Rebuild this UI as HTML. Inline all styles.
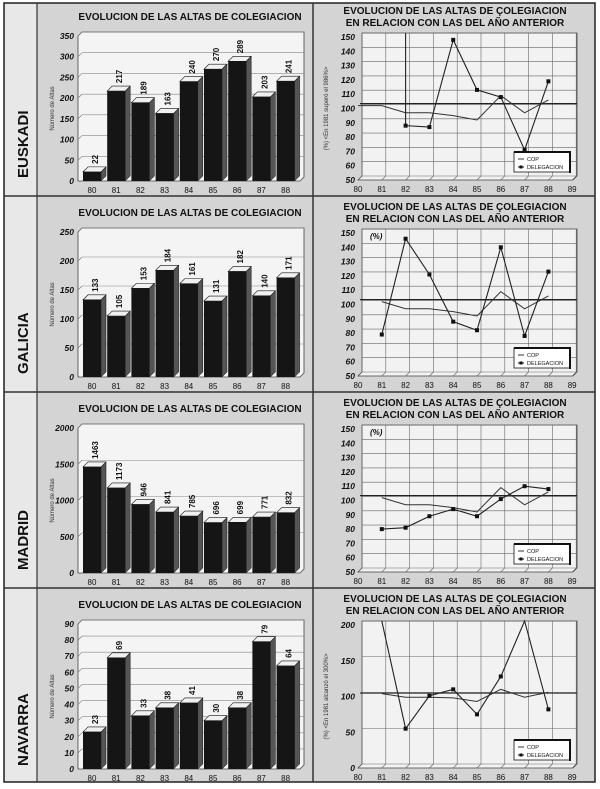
<!DOCTYPE html>
<html><head><meta charset="utf-8"><style>
body{margin:0;background:#fff;}
svg{display:block;font-family:"Liberation Sans",sans-serif;}
</style></head><body>
<svg id="s" width="600" height="789" viewBox="0 0 600 789" xmlns="http://www.w3.org/2000/svg"></svg>
<script>
const S=document.getElementById('s');let h='';
h+='<rect x="0" y="0" width="600" height="789" fill="#fff"/>';
h+='<rect x="4" y="3" width="591" height="779" fill="#d4d4d4" stroke="#222" stroke-width="1.5"/>';
h+='<rect x="5" y="4" width="32" height="777" fill="#e8e8e8"/>';
h+='<line x1="37" y1="3" x2="37" y2="782" stroke="#333" stroke-width="1.2"/>';
h+='<line x1="313" y1="3" x2="313" y2="782" stroke="#333" stroke-width="1.5"/>';
const rows=[0,196,392,588];
rows.slice(1).forEach(y=>h+=`<line x1="4" y1="${y}" x2="595" y2="${y}" stroke="#333" stroke-width="1.5"/>`);
const names=['EUSKADI','GALICIA','MADRID','NAVARRA'];
const bars=[
 {v:[22,217,189,163,240,270,289,203,241],max:350,step:50},
 {v:[133,105,153,184,161,131,182,140,171],max:250,step:50},
 {v:[1463,1173,946,841,785,696,699,771,832],max:2000,step:500},
 {v:[23,69,33,38,41,30,38,79,64],max:90,step:10}];
const cop=[102,97,97,95,92,109,97,106];
const lines=[
 {d:[null,88,87,148,113,108,71,119],pre:true,min:50,max:150,step:10,yl:'(%) &lt;En 1981 superó el 986%&gt;'},
 {d:[79,146,121,88,82,140,78,123],min:50,max:150,step:10,pct:true},
 {d:[80,81,89,94,89,101,110,108],min:50,max:150,step:10,pct:true},
 {d:[300,55,101,110,75,128,210,82],min:0,max:200,step:50,yl:'(%) &lt;En 1981 alcanzó el 300%&gt;',cop:[104,99,99,98,93,110,99,106]}];
rows.forEach((r,i)=>{
 h+=`<text transform="translate(28,${r+178}) rotate(-90)" font-size="15" font-weight="bold" fill="#111">${names[i]}</text>`;
 const B=bars[i];const top=r+36, bot=r+181, ax=78;
 h+=`<text x="190" y="${r+20}" font-size="10" font-weight="bold" text-anchor="middle" fill="#111">EVOLUCION DE LAS ALTAS DE COLEGIACION</text>`;
 h+=`<polygon points="${ax},${top} ${ax+4},${top-4} 304,${top-4} 304,${bot-4} 300,${bot} ${ax},${bot}" fill="#f4f4f4" stroke="#444" stroke-width="0.8"/>`;
 for(let v=0;v<=B.max;v+=B.step){const y=bot-(v/B.max)*(bot-top);
  if(v>0)h+=`<line x1="${ax}" y1="${y}" x2="${ax+4}" y2="${y-4}" stroke="#777" stroke-width="0.6"/><line x1="${ax+4}" y1="${y-4}" x2="304" y2="${y-4}" stroke="#888" stroke-width="0.6"/>`;
  h+=`<text x="${ax-4}" y="${y+3}" font-size="8.5" font-weight="bold" font-style="italic" text-anchor="end" fill="#111">${v}</text>`;}
 h+=`<text transform="translate(54,${(top+bot)/2}) rotate(-90)" font-size="6" text-anchor="middle" fill="#333">Número de Altas</text>`;
 B.v.forEach((v,k)=>{const x=83+k*24.2,w=18,y=bot-(v/B.max)*(bot-top);
  h+=`<polygon points="${x+w},${y} ${x+w+5},${y-5} ${x+w+5},${bot-5} ${x+w},${bot}" fill="#555" stroke="#111" stroke-width="0.5"/>`;
  h+=`<polygon points="${x},${y} ${x+5},${y-5} ${x+w+5},${y-5} ${x+w},${y}" fill="#f0f0f0" stroke="#111" stroke-width="0.6"/>`;
  h+=`<rect x="${x}" y="${y}" width="${w}" height="${bot-y}" fill="#151515"/>`;
  h+=`<text transform="translate(${x+w/2+6},${y-8}) rotate(-90)" font-size="8" font-weight="bold" fill="#111">${v}</text>`;
  h+=`<text x="${x+w/2}" y="${bot+12}" font-size="8" text-anchor="middle" fill="#111">${80+k}</text>`;});
 const L=lines[i];const rt=r+37, rb=r+180, rx=358, px=23.8;
 h+=`<text x="455" y="${r+14}" font-size="10" font-weight="bold" text-anchor="middle" fill="#111">EVOLUCION DE LAS ALTAS DE ÇOLEGIACION</text>`;
 h+=`<text x="455" y="${r+26}" font-size="10" font-weight="bold" text-anchor="middle" fill="#111">EN RELACION CON LAS DEL AÑO ANTERIOR</text>`;
 h+=`<polygon points="${rx},${rb} ${rx+4},${rb-4} ${rx+4},${rt-4} 577,${rt-4} 577,${rb-4} 573,${rb}" fill="#f2f2f2" stroke="#444" stroke-width="0.8"/>`;
 const Y=v=>rb-(v-L.min)/(L.max-L.min)*(rb-rt);
 for(let v=L.min;v<=L.max;v+=L.step){const y=Y(v);
  h+=`<line x1="${rx+4}" y1="${y-4}" x2="577" y2="${y-4}" stroke="#666" stroke-width="0.6"/>`;
  h+=`<text x="${rx-3}" y="${y+3}" font-size="8.5" font-weight="bold" font-style="italic" text-anchor="end" fill="#111">${v}</text>`;}
 for(let k=0;k<=9;k++){const x=rx+k*px;
  if(k>0)h+=`<line x1="${x+4}" y1="${rt-4}" x2="${x+4}" y2="${rb-4}" stroke="#666" stroke-width="0.6"/><line x1="${x}" y1="${rb}" x2="${x+4}" y2="${rb-4}" stroke="#666" stroke-width="0.6"/>`;
  h+=`<text x="${x}" y="${rb+12}" font-size="8" text-anchor="middle" fill="#111">${80+k}</text>`;}
 const y102=Y(102)-2;h+=`<line x1="${rx+2}" y1="${y102}" x2="577" y2="${y102}" stroke="#222" stroke-width="1.2"/>`;
 if(L.yl)h+=`<text transform="translate(${rx-30},${(rt+rb)/2}) rotate(-90)" font-size="6" text-anchor="middle" fill="#333">${L.yl}</text>`;
 if(L.pct)h+=`<text x="${rx+12}" y="${rt+6}" font-size="8" font-weight="bold" font-style="italic" fill="#111">(%)</text>`;
 const c=L.cop||cop;
 let p=(i==0?`${rx},${Y(102)} `:'')+c.map((v,k)=>`${rx+(k+1)*px},${Y(v)}`).join(' ');
 h+=`<polyline points="${p}" fill="none" stroke="#333" stroke-width="1"/>`;
 let pts=[];L.d.forEach((v,k)=>{if(v==null)return;const x=rx+(k+1)*px;let y=Y(v);if(y<rt-4){y=rt-4;}pts.push([x,y,v<=L.max]);});
 if(L.pre)pts.unshift([rx+2*px,rt-4,false]);
 h+=`<polyline points="${pts.map(q=>q[0]+','+q[1]).join(' ')}" fill="none" stroke="#222" stroke-width="1.1"/>`;
 pts.forEach(q=>{if(q[2])h+=`<rect x="${q[0]-2}" y="${q[1]-2}" width="4" height="4" fill="#111"/>`;});
 const ly=rb-28;
 h+=`<rect x="514" y="${ly}" width="56" height="20" fill="#fff" stroke="#111" stroke-width="0.8"/>`;
 h+=`<line x1="570" y1="${ly+1}" x2="570" y2="${ly+21}" stroke="#111" stroke-width="2"/><line x1="514" y1="${ly}" x2="571" y2="${ly}" stroke="#111" stroke-width="2"/>`;
 h+=`<line x1="518" y1="${ly+7}" x2="524" y2="${ly+7}" stroke="#333"/><text x="527" y="${ly+9}" font-size="5.5" fill="#111">COP</text>`;
 h+=`<line x1="518" y1="${ly+15}" x2="524" y2="${ly+15}" stroke="#111"/><rect x="519.5" y="${ly+13.5}" width="3" height="3" fill="#111"/><text x="527" y="${ly+17}" font-size="5.5" fill="#111">DELEGACION</text>`;
});
S.innerHTML=h;
</script>
</body></html>
